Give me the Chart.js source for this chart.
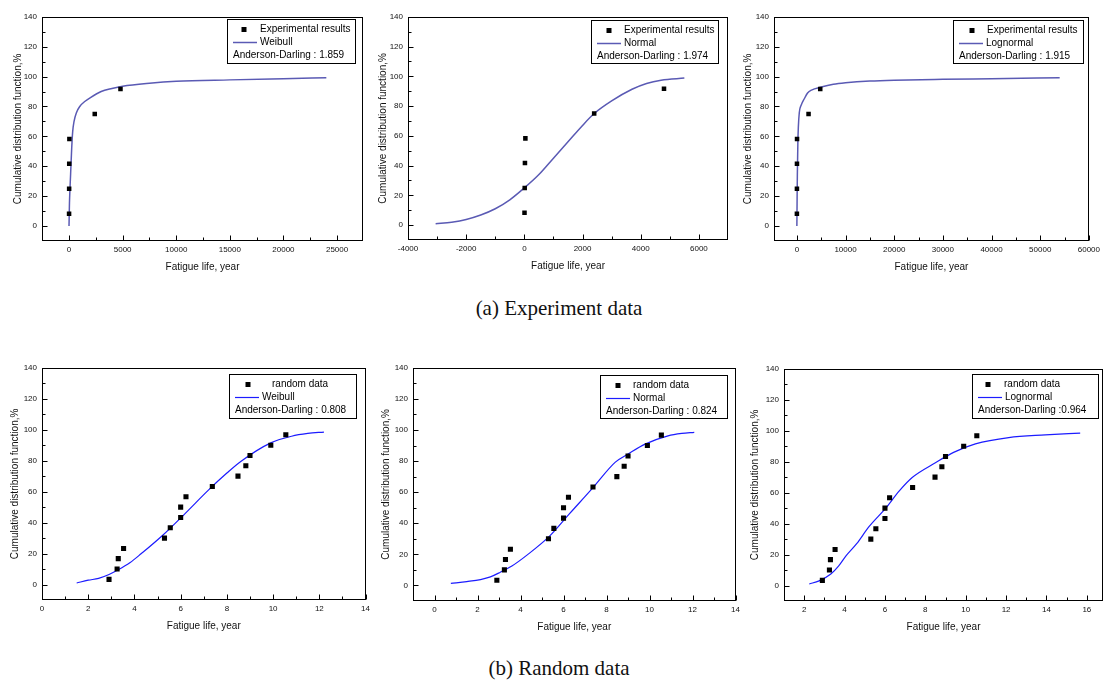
<!DOCTYPE html>
<html>
<head>
<meta charset="utf-8">
<script src="https://cdn.jsdelivr.net/npm/chart.js@4.4.1/dist/chart.umd.min.js"></script>
<style>
  html, body { margin: 0; padding: 0; background: #fff; }
  body { width: 1104px; height: 684px; overflow: hidden; position: relative; }
  .panel { position: absolute; }
  .caption { position: absolute; left: 0; width: 1118px; text-align: center;
             font-family: "Liberation Serif", "Times New Roman", serif;
             font-size: 21px; line-height: 22px; color: #111; }
</style>
</head>
<body>
<div class="panel" id="box1"><canvas id="chart1"></canvas></div>
<div class="panel" id="box2"><canvas id="chart2"></canvas></div>
<div class="panel" id="box3"><canvas id="chart3"></canvas></div>
<div class="panel" id="box4"><canvas id="chart4"></canvas></div>
<div class="panel" id="box5"><canvas id="chart5"></canvas></div>
<div class="panel" id="box6"><canvas id="chart6"></canvas></div>
<div class="caption" style="top:297px">(a) Experiment data</div>
<div class="caption" style="top:657px">(b) Random data</div>
<script>
// experiment data (same 6 points in all three top plots)
const expLife = [5, 12, 20, 35, 2400, 4800];
const expCdf = [8.3, 25, 41.7, 58.3, 75, 91.7];

// fitted curves
const weibullExpLife = [0, 40, 90, 150, 250, 340, 470, 700, 1000, 1500, 2000, 3000, 4000, 5000, 7500, 10000, 15000, 20000, 24000];
const weibullExpCdf = [0, 15, 25, 35, 52, 63, 70, 76, 80, 83.5, 86, 90, 92, 93.5, 95.5, 96.8, 97.8, 98.6, 99.2];
const normalExpLife = [-3050, -2500, -2000, -1500, -1000, -500, 0, 500, 1000, 1500, 2000, 2400, 3000, 3700, 4200, 4700, 5500];
const normalExpCdf = [0.9, 2, 3.8, 6.8, 11, 17, 25, 34, 45, 56, 67, 75, 83.5, 91.3, 95.2, 97.4, 98.8];
const lognormalExpLife = [0, 40, 100, 200, 300, 500, 900, 1500, 2200, 3000, 5000, 7500, 10000, 15000, 20000, 30000, 40000, 54000];
const lognormalExpCdf = [0, 15, 35, 55, 66, 76, 81, 85, 89, 91, 93, 94.8, 95.8, 97, 97.6, 98.2, 98.6, 99.2];

// random data (15 points in all three bottom plots)
const randLife = [2.9, 3.25, 3.3, 3.53, 5.3, 5.55, 6.0, 6.0, 6.23, 7.37, 8.48, 8.82, 9.0, 9.9, 10.55];
const randCdf = [3.3, 10, 16.7, 23.3, 30, 36.7, 43.3, 50, 56.7, 63.3, 70, 76.7, 83.3, 90, 96.7];

const weibullRandLife = [1.5, 2.0, 2.45, 2.9, 3.3, 3.8, 4.3, 5.2, 6.2, 7.2, 8.0, 8.6, 9.9, 10.8, 11.5, 12.2];
const weibullRandCdf = [1, 2.8, 4, 6.5, 9.5, 14, 20, 31.5, 46, 61, 72, 79.5, 91.5, 95.8, 97.6, 98.5];
const normalRandLife = [0.76, 1.5, 2.14, 2.6, 3.06, 3.6, 4.3, 5.35, 6.27, 7.34, 8.41, 9.0, 9.79, 10.86, 11.5, 12.08];
const normalRandCdf = [1.3, 2.5, 3.8, 5.5, 8.5, 12.5, 19.5, 31.7, 46, 62.4, 79.3, 84.5, 90.9, 96.2, 97.8, 98.5];
const lognormalRandLife = [2.25, 2.74, 3.32, 3.7, 4.06, 4.6, 5.21, 6.04, 6.7, 7.35, 8.5, 9.4, 10.48, 12.13, 13.94, 15.67];
const lognormalRandCdf = [1, 3, 7.4, 12.5, 19, 27, 38, 50, 61, 69.8, 79.3, 86, 91.5, 95.6, 97.3, 98.5];

const adExp = ['1.859', '1.974', '1.915'];
const adRand = ['0.808', '0.824', '0.964'];

// tick labels
const yTickVals = [0, 20, 40, 60, 80, 100, 120, 140];
const xTicksExpWeibull = [0, 5000, 10000, 15000, 20000, 25000];
const xTicksExpNormal = [-4000, -2000, 0, 2000, 4000, 6000];
const xTicksExpLognormal = [0, 10000, 20000, 30000, 40000, 50000, 60000];
const xTicksRandWeibull = [0, 2, 4, 6, 8, 10, 12, 14];
const xTicksRandNormal = [0, 2, 4, 6, 8, 10, 12, 14];
const xTicksRandLognormal = [2, 4, 6, 8, 10, 12, 14, 16];

Chart.defaults.font.family = '"Liberation Sans", Arial, sans-serif';

const topBlue = '#5a5ab4';
const botBlue = '#1c1cff';

// plot area boxes in page pixels (L,T,R,B) and legend boxes
const panels = [
  { id: 1, L: 42, T: 13, R: 363, B: 241, padR: 6, xMin: -2520, xMax: 27420, xTicks: xTicksExpWeibull,
    life: expLife, cdf: expCdf, pointName: 'Experimental results',
    fitLife: weibullExpLife, fitCdf: weibullExpCdf, fitName: 'Weibull', ad: 'Anderson-Darling : ' + adExp[0],
    color: topBlue, lineW: 1.5, markR: 3.2, titleX: 18,
    leg: { x: 227, y: 19, w: 128, h: 44, mark: 17, t1: 33 } },
  { id: 2, L: 408, T: 13, R: 728, B: 240, padR: 6, xMin: -4000, xMax: 7000, xTicks: xTicksExpNormal,
    life: expLife, cdf: expCdf, pointName: 'Experimental results',
    fitLife: normalExpLife, fitCdf: normalExpCdf, fitName: 'Normal', ad: 'Anderson-Darling : ' + adExp[1],
    color: topBlue, lineW: 1.5, markR: 3.2, titleX: 383,
    leg: { x: 591, y: 20, w: 127, h: 43, mark: 18, t1: 33 } },
  { id: 3, L: 774, T: 13, R: 1093, B: 241, padR: 11, xMin: -4700, xMax: 60000, xTicks: xTicksExpLognormal,
    life: expLife, cdf: expCdf, pointName: 'Experimental results',
    fitLife: lognormalExpLife, fitCdf: lognormalExpCdf, fitName: 'Lognormal', ad: 'Anderson-Darling : ' + adExp[2],
    color: topBlue, lineW: 1.5, markR: 3.2, titleX: 748,
    leg: { x: 953, y: 20, w: 130, h: 43, mark: 19, t1: 34 } },
  { id: 4, L: 42, T: 364, R: 368, B: 600, padR: 6, xMin: 0, xMax: 14, xTicks: xTicksRandWeibull,
    life: randLife, cdf: randCdf, pointName: 'random data',
    fitLife: weibullRandLife, fitCdf: weibullRandCdf, fitName: 'Weibull', ad: 'Anderson-Darling : ' + adRand[0],
    color: botBlue, lineW: 1.2, markR: 3.6, titleX: 15,
    leg: { x: 229, y: 374, w: 127, h: 44, mark: 19, t1: 43 } },
  { id: 5, L: 413, T: 364, R: 738, B: 601, padR: 6, xMin: -1, xMax: 14, xTicks: xTicksRandNormal,
    life: randLife, cdf: randCdf, pointName: 'random data',
    fitLife: normalRandLife, fitCdf: normalRandCdf, fitName: 'Normal', ad: 'Anderson-Darling : ' + adRand[1],
    color: botBlue, lineW: 1.2, markR: 3.6, titleX: 386,
    leg: { x: 600, y: 375, w: 127, h: 43, mark: 18, t1: 33 } },
  { id: 6, L: 784, T: 365, R: 1103, B: 601, padR: 6, xMin: 1, xMax: 16.8, xTicks: xTicksRandLognormal,
    life: randLife, cdf: randCdf, pointName: 'random data',
    fitLife: lognormalRandLife, fitCdf: lognormalRandCdf, fitName: 'Lognormal', ad: 'Anderson-Darling :' + adRand[2],
    color: botBlue, lineW: 1.2, markR: 3.6, titleX: 755,
    leg: { x: 972, y: 374, w: 126, h: 44, mark: 16, t1: 32 } }
];

// frame around the plot + inward major/minor ticks (Origin style)
const frameTicks = {
  id: 'frameTicks',
  afterDatasetsDraw(chart) {
    const { ctx, chartArea: a, scales } = chart;
    const l = Math.round(a.left) + 0.5, t = Math.round(a.top) + 0.5;
    const r = Math.round(a.right) - 0.5, b = Math.round(a.bottom) - 0.5;
    ctx.save();
    ctx.strokeStyle = '#000';
    ctx.lineWidth = 1;
    ctx.strokeRect(l, t, r - l, b - t);
    ctx.beginPath();
    const marks = (scale) => {
      const v = scale.ticks.map(tk => tk.value);
      const out = v.map(x => [x, 5]);
      for (let i = 0; i < v.length - 1; i++) out.push([(v[i] + v[i + 1]) / 2, 3]);
      const step = v[1] - v[0];
      if (v[0] - step / 2 > scale.min) out.push([v[0] - step / 2, 3]);
      if (v[v.length - 1] + step / 2 < scale.max) out.push([v[v.length - 1] + step / 2, 3]);
      return out;
    };
    marks(scales.x).forEach(([val, len]) => {
      const px = Math.round(scales.x.getPixelForValue(val)) + 0.5;
      ctx.moveTo(px, b); ctx.lineTo(px, b - len);
    });
    marks(scales.y).forEach(([val, len]) => {
      const py = Math.round(scales.y.getPixelForValue(val)) + 0.5;
      ctx.moveTo(l, py); ctx.lineTo(l + len, py);
    });
    ctx.stroke();
    ctx.restore();
  }
};

// legend box with the Anderson-Darling line
const fitLegend = {
  id: 'fitLegend',
  afterDraw(chart, args, o) {
    const ctx = chart.ctx;
    const x = Math.round(o.x), y = Math.round(o.y);
    ctx.save();
    ctx.fillStyle = '#fff';
    ctx.fillRect(x, y, o.w, o.h);
    ctx.strokeStyle = '#000';
    ctx.lineWidth = 1;
    ctx.strokeRect(x + 0.5, y + 0.5, o.w, o.h);
    ctx.font = '10px "Liberation Sans", Arial, sans-serif';
    ctx.textBaseline = 'middle';
    ctx.fillStyle = '#000';
    ctx.fillRect(x + o.mark - 2.5, y + 10.5 - 2.5, 5, 5);
    ctx.fillText(o.label1, x + o.t1, y + 10.5);
    ctx.strokeStyle = o.color;
    ctx.lineWidth = o.lineW;
    ctx.beginPath();
    ctx.moveTo(x + 6, y + 23.5);
    ctx.lineTo(x + 30, y + 23.5);
    ctx.stroke();
    ctx.fillText(o.label2, x + 33, y + 23.5);
    ctx.fillText(o.label3, x + 6, y + 36.5);
    ctx.restore();
  }
};

panels.forEach(p => {
  const left = p.L - 42, top = p.T - 6;
  const w = p.R - p.L + 42 + p.padR, h = p.B - p.T + 46;
  const box = document.getElementById('box' + p.id);
  box.style.left = left + 'px';
  box.style.top = top + 'px';
  box.style.width = w + 'px';
  box.style.height = h + 'px';

  new Chart(document.getElementById('chart' + p.id), {
    type: 'scatter',
    data: {
      datasets: [
        {
          label: p.pointName,
          data: p.life.map((v, i) => ({ x: v, y: p.cdf[i] })),
          pointStyle: 'rect',
          pointRadius: p.markR,
          backgroundColor: '#000',
          borderColor: '#000',
          borderWidth: 0,
          order: 0
        },
        {
          label: p.fitName,
          data: p.fitLife.map((v, i) => ({ x: v, y: p.fitCdf[i] })),
          showLine: true,
          pointRadius: 0,
          borderColor: p.color,
          borderWidth: p.lineW,
          cubicInterpolationMode: 'monotone',
          fill: false,
          order: 1
        }
      ]
    },
    options: {
      responsive: true,
      maintainAspectRatio: false,
      animation: false,
      devicePixelRatio: 1,
      layout: { padding: { left: 0, top: 6, right: p.padR, bottom: 0 } },
      plugins: {
        legend: { display: false },
        tooltip: { enabled: false },
        fitLegend: {
          x: p.leg.x - left, y: p.leg.y - top, w: p.leg.w, h: p.leg.h,
          mark: p.leg.mark, t1: p.leg.t1,
          label1: p.pointName, label2: p.fitName, label3: p.ad,
          color: p.color, lineW: p.lineW
        }
      },
      scales: {
        x: {
          type: 'linear',
          min: p.xMin,
          max: p.xMax,
          afterBuildTicks: s => { s.ticks = p.xTicks.map(v => ({ value: v })); },
          afterFit: s => { s.height = 40; },
          grid: { display: false, drawTicks: false },
          border: { display: false },
          ticks: { autoSkip: false, maxRotation: 0, padding: 4, color: '#111', font: { size: 8 },
                   callback: v => String(v) },
          title: { display: true, text: 'Fatigue life, year', color: '#111', font: { size: 10 },
                   padding: { top: 0, bottom: 8 } }
        },
        y: {
          type: 'linear',
          min: -10,
          max: 140,
          afterBuildTicks: s => { s.ticks = yTickVals.map(v => ({ value: v })); },
          afterFit: s => { s.width = 42; },
          grid: { display: false, drawTicks: false },
          border: { display: false },
          ticks: { padding: 5, color: '#111', font: { size: 8 }, callback: v => String(v) },
          title: { display: true, text: 'Cumulative distribution function,%', color: '#111', font: { size: 10 },
                   padding: { top: p.titleX - left - 6, bottom: 0 } }
        }
      }
    },
    plugins: [frameTicks, fitLegend]
  });
});
</script>
</body>
</html>
